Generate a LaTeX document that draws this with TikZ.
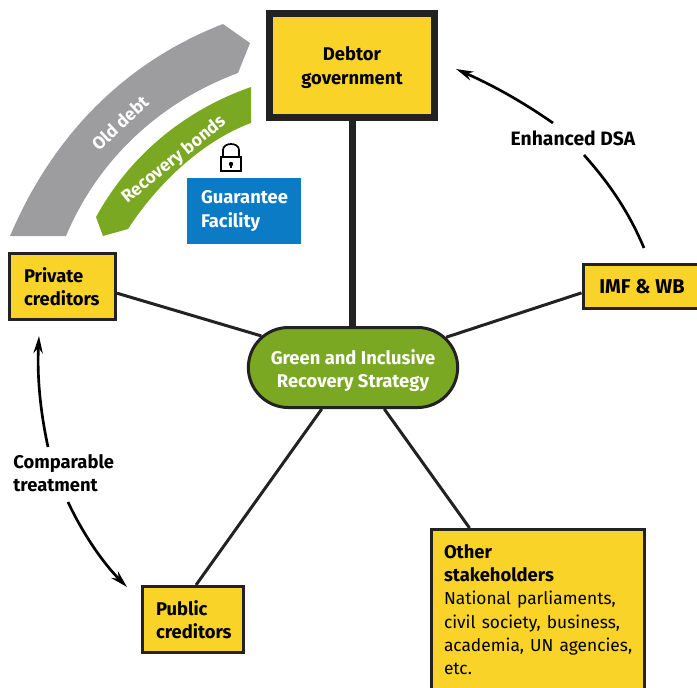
\documentclass[tikz,border=0pt]{standalone}
\usepackage{fontspec}
\setmainfont{Fira Sans}
\usetikzlibrary{arrows.meta,positioning,shapes.misc}
\definecolor{boxyellow}{HTML}{F9D328}
\definecolor{stratgreen}{HTML}{7BA823}
\definecolor{facblue}{HTML}{0A7BC4}
\definecolor{debtgray}{HTML}{9D9C9E}
\definecolor{inkdark}{HTML}{222222}
\newcommand{\lowerby}[1]{\rule{0pt}{#1}}
\tikzset{
  boxtext/.style={font=\fontsize{13.8}{17.5}\selectfont\bfseries,align=left,inner sep=0pt},
  yellowbox/.style={boxtext,draw=inkdark,fill=boxyellow,line width=2.25pt},
  link/.style={draw=inkdark,line width=2.25pt},
  flow/.style={draw=black,line width=2pt},
  flowtip/.style={-{Stealth[length=13pt,width=7pt]}},
  bandtext/.style={font=\fontsize{13.2}{15}\selectfont\bfseries,text=white,inner sep=0pt}
}
\begin{document}
\begin{tikzpicture}[x=0.75pt,y=-0.75pt]
  \useasboundingbox (0,0) rectangle (697,687);
  % curved bands
  \fill[debtgray] (10,236) .. controls (55,130) and (130,60) .. (223,24) -- (250,43) -- (238,73)
     .. controls (165,100) and (100,155) .. (66,236) -- cycle;
  \fill[stratgreen] (96,217) .. controls (130,155) and (185,110) .. (251,87) -- (251,123)
     .. controls (205,140) and (160,180) .. (128,229) -- (103,236) -- cycle;
  \node[bandtext,rotate=43] (olddebt) at (120,123) {Old debt};
  \node[bandtext,rotate=39] (recbonds) at (174,160) {Recovery bonds};
  % lock
  \draw[black,line width=1.3pt] (221,157) rectangle (241,171);
  \draw[black,line width=1.3pt] (223,157) -- (223,150) .. controls (223,142) and (239,142) .. (239,150) -- (239,157);
  \fill[black] (231,164) circle (2.2);
  \fill[black] (230,164) rectangle (232,168);
  % boxes
  \node[yellowbox,minimum width=123.75pt,minimum height=78pt,line width=5.25pt,align=center] (debtor) at (352,65.5) {\lowerby{13.5pt}Debtor\\government};
  \node[yellowbox,rounded rectangle,draw=inkdark,fill=stratgreen,text=white,minimum width=157pt,minimum height=60pt,align=center] (strategy) at (353,367.5) {\lowerby{15.5pt}Green and Inclusive\\Recovery Strategy};
  \node[yellowbox,minimum width=79.5pt,minimum height=49.5pt,text width=57.75pt] (private) at (62.5,286.5) {Private\\creditors};
  \node[yellowbox,minimum width=75.75pt,minimum height=49.5pt,text width=55.5pt] (public) at (193,619.5) {Public\\creditors};
  \node[yellowbox,font=\fontsize{15}{17.5}\selectfont\bfseries,minimum width=88.5pt,minimum height=33pt,align=center] (imf) at (642,286.5) {IMF \& WB};
  \node[yellowbox,anchor=north,inner ysep=11pt,minimum width=159.75pt,text width=141pt] (other) at (538,528) {Other\\stakeholders\\
    {\mdseries\fontsize{13}{17.5}\selectfont National parliaments,\\civil society, business,\\\mbox{academia, UN agencies,}\\etc.}};
  \node[boxtext,fill=facblue,text=white,minimum width=85.5pt,minimum height=49.5pt,text width=64.5pt] (facility) at (244,211) {Guarantee\\Facility};
  % links
  \draw[link,line width=5.25pt] (debtor.south) -- (debtor.south |- strategy.north);
  \draw[link] (strategy.161.5) -- (private.353);
  \draw[link] (strategy.18.5) -- (imf.186);
  \draw[link] (strategy.233) -- (public.85);
  \draw[link] (strategy.307) -- (other.130);
  % flows
  \node[boxtext,font=\fontsize{14.5}{17.5}\selectfont\bfseries] (dsa) at (573,138) {Enhanced DSA};
  \node[boxtext,text width=76pt] (treatment) at (64,473) {Comparable\\treatment};
  \coordinate (imfout) at (644,248);
  \coordinate (debtorin) at (456,69);
  \coordinate (privatein) at (39,336);
  \coordinate (publicin) at (127,587);
  \draw[flow] (imfout) .. controls (628,210) and (608,182) .. (584,155);
  \draw[flow,flowtip] (553,123) .. controls (520,100) and (490,84) .. (debtorin);
  \draw[flow,flowtip] (48,447) .. controls (40,410) and (37,375) .. (privatein);
  \draw[flow,flowtip] (68,502) .. controls (82,532) and (102,562) .. (publicin);
\end{tikzpicture}
\end{document}
